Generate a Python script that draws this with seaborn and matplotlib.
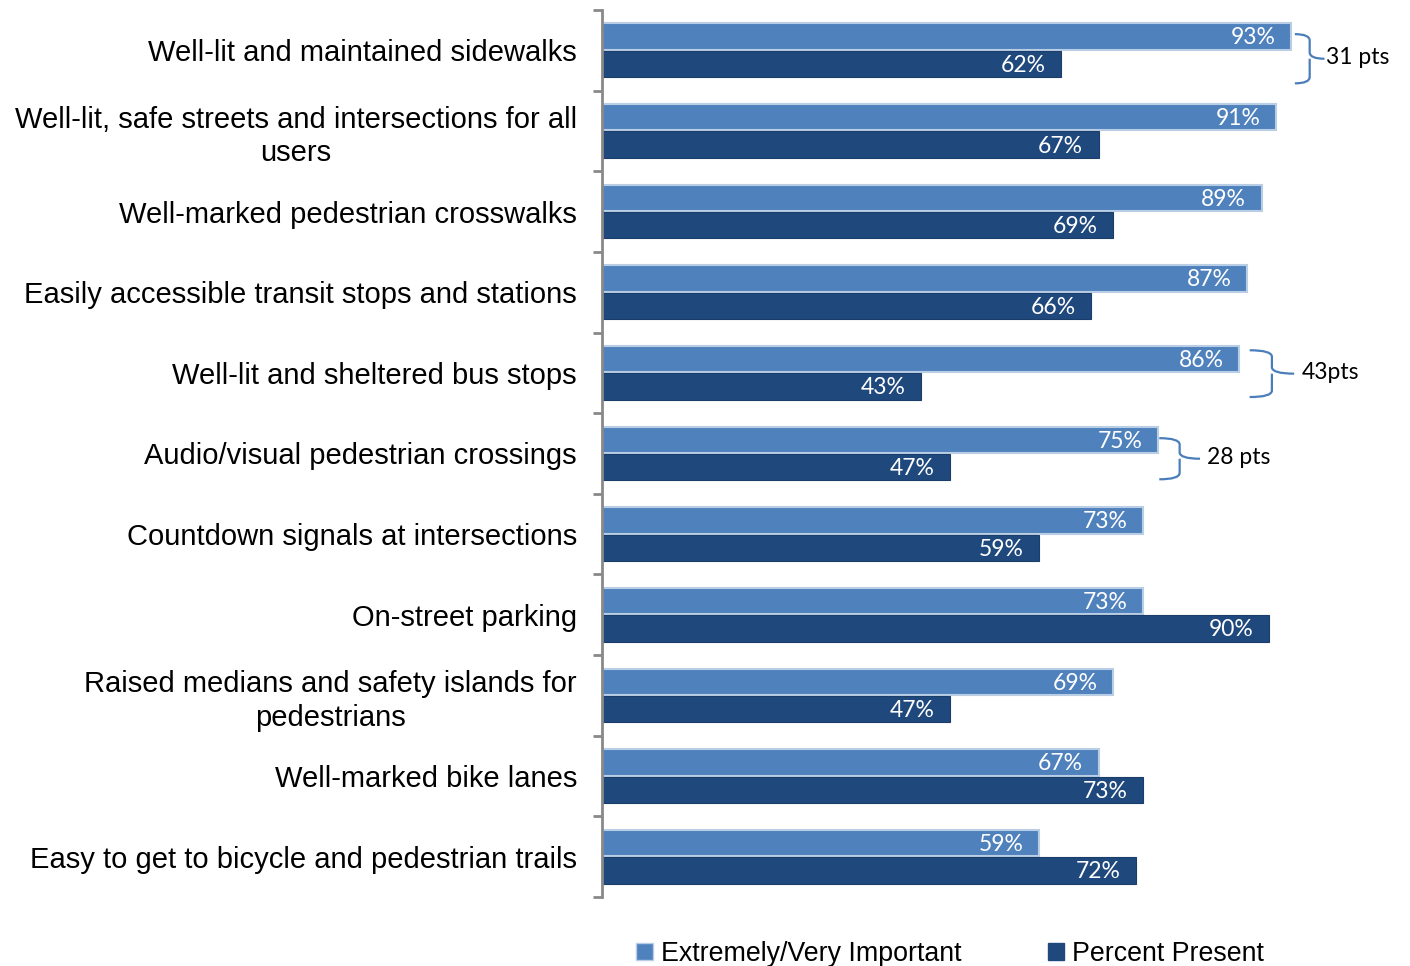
import matplotlib
matplotlib.use("Agg")
import matplotlib.pyplot as plt
import pandas as pd
import seaborn as sns
from matplotlib.patches import Patch, PathPatch
from matplotlib.path import Path

categories = [
    "Well-lit and maintained sidewalks",
    "Well-lit, safe streets and intersections for all\nusers",
    "Well-marked pedestrian crosswalks",
    "Easily accessible transit stops and stations",
    "Well-lit and sheltered bus stops",
    "Audio/visual pedestrian crossings",
    "Countdown signals at intersections",
    "On-street parking",
    "Raised medians and safety islands for\npedestrians",
    "Well-marked bike lanes",
    "Easy to get to bicycle and pedestrian trails",
]
important = [93, 91, 89, 87, 86, 75, 73, 73, 69, 67, 59]
present = [62, 67, 69, 66, 43, 47, 59, 90, 47, 73, 72]
series_names = ["Extremely/Very Important", "Percent Present"]
colors = ["#4f81bd", "#1f497d"]

# (category index, label) for the gap braces
braces = [(0, "31 pts"), (4, "43pts"), (5, "28 pts")]

df = pd.DataFrame({
    "category": categories * 2,
    "value": important + present,
    "series": [series_names[0]] * len(categories) + [series_names[1]] * len(categories),
})

sns.set_style("white")
plt.rcParams["font.family"] = ["Liberation Sans", "DejaVu Sans"]
plt.rcParams["text.color"] = "black"
plt.rcParams["ytick.color"] = "black"

fig = plt.figure(figsize=(14.1, 9.66), dpi=100)
ax = fig.add_axes([0.427, 0.0714, 0.5255, 0.9183])

sns.barplot(data=df, y="category", x="value", hue="series", orient="h",
            palette=colors, width=0.68, gap=0.04, ax=ax, legend=False,
            saturation=1)

for cont, col in zip(ax.containers, colors):
    for bar in cont:
        if col == colors[0]:
            bar.set_edgecolor("#b9cde5")
            bar.set_linewidth(1.5)
        else:
            bar.set_edgecolor("#1a3d6a")
            bar.set_linewidth(0.8)
        ax.annotate(f"{int(round(bar.get_width()))}%",
                    (bar.get_width(), bar.get_y() + bar.get_height() / 2),
                    xytext=(-11, -1), textcoords="offset points",
                    ha="right", va="center", color="white",
                    fontsize=16.5, family=["Lato", "DejaVu Sans"])

ax.set_xlim(0, 100)
ax.set_ylim(len(categories) - 0.5, -0.5)
ax.set_xlabel("")
ax.set_ylabel("")
ax.set_xticks([])
for s in ["top", "right", "bottom"]:
    ax.spines[s].set_visible(False)
ax.spines["left"].set_color("#898989")
ax.spines["left"].set_linewidth(2)

ax.set_yticks(range(len(categories)))
ax.set_yticklabels(categories, fontsize=21, multialignment="center",
                   color="black", linespacing=1.25)
ax.set_yticks([i - 0.5 for i in range(len(categories) + 1)], minor=True)
ax.tick_params(axis="y", which="major", length=0, pad=18)
ax.tick_params(axis="y", which="minor", length=6.5, width=2, color="#898989", left=True)


def draw_brace(ax, x0, y0, y1, w, text, gap):
    ym = (y0 + y1) / 2
    xm = x0 + w * 0.5
    verts = [
        (x0, y0), (xm, y0), (xm, y0 + 0.08),
        (xm, ym - 0.08), (xm, ym), (x0 + w, ym),
        (xm, ym), (xm, ym + 0.08),
        (xm, y1 - 0.08), (xm, y1), (x0, y1),
    ]
    codes = [Path.MOVETO, Path.CURVE3, Path.CURVE3,
             Path.LINETO, Path.CURVE3, Path.CURVE3,
             Path.MOVETO, Path.CURVE3,
             Path.LINETO, Path.CURVE3, Path.CURVE3]
    patch = PathPatch(Path(verts, codes), fill=False, edgecolor="#4a7ebb",
                      linewidth=1.6, clip_on=False)
    ax.add_patch(patch)
    ax.text(x0 + w + gap, ym - 0.02, text, ha="left", va="center", fontsize=16.5,
            family=["Lato", "DejaVu Sans"], color="black", clip_on=False)


brace_geo = {0: (93.5, -0.20, 0.41, 4.0, 0.2), 4: (87.4, -0.28, 0.30, 6.0, 1.0),
             5: (75.2, -0.19, 0.32, 5.5, 1.0)}
for idx, label in braces:
    x0, dy0, dy1, w, gap = brace_geo[idx]
    draw_brace(ax, x0, idx + dy0, idx + dy1, w, label, gap)

handles = [Patch(facecolor=c, edgecolor="#b9cde5" if i == 0 else c) for i, c in enumerate(colors)]
fig.legend(handles, series_names, loc="center", bbox_to_anchor=(0.674, 0.012),
           ncol=2, frameon=False, fontsize=19.3, handlelength=0.6,
           handleheight=0.6, handletextpad=0.3, columnspacing=3.25)

fig.savefig("out.png", dpi=100)
